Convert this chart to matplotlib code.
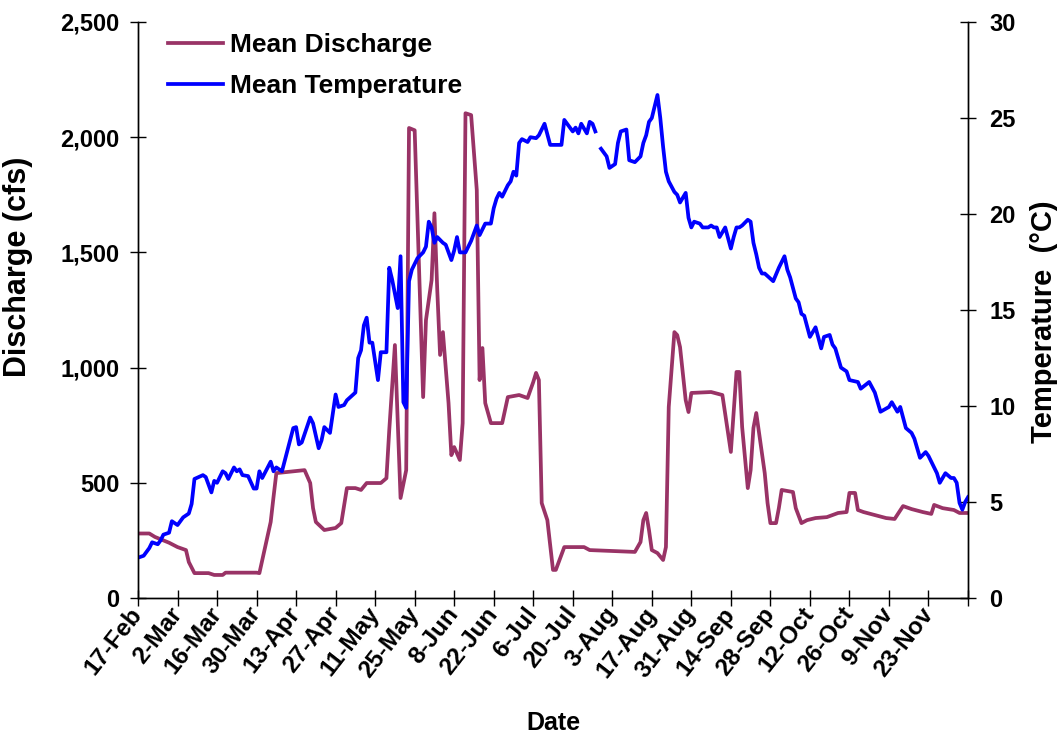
import numpy as np
import matplotlib.pyplot as plt

plt.rcParams['font.family'] = ['Liberation Sans', 'DejaVu Sans']
plt.rcParams['font.weight'] = 'bold'

# days after 17-Feb (leap year), discharge in cfs
q_day = [0, 4, 6, 11, 14, 17, 18, 20, 25, 27, 30, 31, 42, 43, 47, 48, 49, 59, 61, 62,
         63, 66, 70, 72, 74, 77, 79, 81, 86, 88, 89, 91, 93, 95, 96, 98, 101, 102, 104, 105,
         106, 107, 108, 110, 111, 112, 114, 115, 116, 118, 120, 121, 122, 123, 125, 129, 131, 135, 138, 140,
         141, 142, 143, 145, 147, 148, 151, 158, 160, 176, 178, 179, 180, 181, 182, 184, 186, 187, 188, 190,
         191, 192, 194, 195, 196, 203, 207, 210, 212, 213, 214, 216, 217, 218, 219, 222, 223, 224, 226, 227,
         228, 232, 233, 235, 237, 240, 244, 248, 251, 252, 254, 255, 257, 261, 265, 268, 271, 274, 278, 281,
         282, 285, 289, 291, 294]
discharge = [280, 280, 265, 240, 221, 208, 156, 108, 108, 100, 100, 110, 110, 108, 330, 438, 542, 555, 499, 390,
             330, 295, 304, 325, 477, 477, 469, 499, 499, 520, 729, 1098, 434, 555, 2040, 2030, 872, 1206, 1380, 1670,
             1337, 1055, 1154, 846, 620, 655, 599, 759, 2104, 2096, 1771, 946, 1085, 846, 759, 759, 872, 881, 868, 937,
             977, 946, 412, 338, 122, 122, 221, 221, 208, 200, 243, 338, 369, 295, 208, 195, 165, 221, 829, 1154,
             1141, 1089, 859, 807, 890, 894, 881, 634, 981, 981, 742, 477, 555, 738, 803, 542, 412, 325, 325, 390,
             469, 460, 390, 325, 338, 347, 351, 369, 373, 456, 456, 382, 373, 360, 347, 343, 399, 386, 373, 365,
             404, 390, 382, 369, 369]

# days after 17-Feb, temperature in C (one missing day in early August)
t_day = [0, 2, 4, 5, 7, 8, 9, 11, 12, 14, 16, 18, 19, 20, 23, 24, 26, 27, 28, 30,
         31, 32, 34, 35, 36, 37, 39, 41, 42, 43, 44, 47, 48, 49, 51, 55, 56, 57, 58, 61,
         62, 64, 65, 66, 68, 70, 71, 73, 74, 77, 78, 79, 80, 81, 82, 83, 85, 86, 88, 89,
         90, 92, 93, 94, 95, 96, 97, 99, 101, 102, 103, 104, 105, 106, 108, 109, 111, 112, 113, 114,
         116, 118, 120, 121, 123, 125, 126, 127, 128, 129, 131, 132, 133, 134, 135, 136, 138, 139, 141, 142,
         144, 146, 150, 151, 152, 154, 155, 156, 157, 159, 160, 161, 162, 163, 164, 166, 167, 169, 170, 171,
         173, 174, 176, 178, 179, 180, 181, 182, 184, 185, 186, 187, 188, 190, 191, 192, 194, 195, 196, 197,
         199, 200, 202, 203, 204, 205, 206, 208, 210, 211, 212, 213, 214, 216, 217, 218, 219, 220, 221, 222,
         225, 227, 229, 230, 231, 233, 234, 235, 236, 238, 240, 242, 243, 245, 246, 247, 249, 251, 252, 255,
         256, 259, 261, 263, 266, 267, 269, 270, 272, 274, 275, 277, 279, 280, 282, 283, 284, 286, 288, 289,
         290, 291, 292, 293, 294]
temperature = [2.1, 2.2, 2.6, 2.9, 2.8, 3.0, 3.3, 3.4, 4.0, 3.8, 4.2, 4.4, 4.9, 6.2, 6.4, 6.3, 5.5, 6.1, 6.0, 6.6,
               6.5, 6.2, 6.8, 6.6, 6.7, 6.4, 6.35, 5.7, 5.7, 6.6, 6.25, 7.1, 6.6, 6.8, 6.6, 8.85, 8.9, 8.0, 8.1, 9.4,
               9.1, 7.8, 8.2, 8.9, 8.6, 10.6, 9.95, 10.05, 10.3, 10.7, 12.5, 12.9, 14.2, 14.6, 13.3, 13.3, 11.35, 12.8, 12.8, 17.2,
               16.6, 15.1, 17.8, 10.2, 9.9, 16.5, 17.1, 17.7, 18.0, 18.3, 19.6, 19.3, 18.5, 18.8, 18.5, 18.4, 17.6, 18.1, 18.8, 18.0,
               18.0, 18.6, 19.4, 18.9, 19.5, 19.5, 20.3, 20.8, 21.1, 20.9, 21.5, 21.7, 22.2, 22.0, 23.7, 23.9, 23.75, 24.0, 23.95, 24.1,
               24.7, 23.6, 23.6, 24.9, 24.7, 24.3, 24.5, 24.2, 24.7, 24.2, 24.8, 24.7, 24.3, np.nan, 23.4, 23.0, 22.4, 22.6, 23.7, 24.3,
               24.4, 22.8, 22.7, 23.0, 23.7, 24.1, 24.8, 25.0, 26.2, 25.0, 23.5, 22.2, 21.7, 21.15, 21.0, 20.6, 21.1, 19.8, 19.3, 19.6,
               19.5, 19.3, 19.3, 19.4, 19.3, 19.3, 18.8, 19.3, 18.2, 18.8, 19.3, 19.3, 19.4, 19.7, 19.6, 18.5, 17.9, 17.2, 16.9, 16.9,
               16.5, 17.2, 17.8, 17.1, 16.7, 15.6, 15.4, 14.8, 14.7, 13.6, 14.1, 13.0, 13.6, 13.7, 13.2, 13.0, 12.0, 11.8, 11.35, 11.25,
               10.9, 11.25, 10.7, 9.7, 9.95, 10.2, 9.7, 9.95, 8.85, 8.6, 8.3, 7.3, 7.6, 7.4, 6.8, 6.5, 6.0, 6.5, 6.25, 6.25,
               6.0, 4.95, 4.6, 5.0, 5.25]

tick_days = list(range(0, 295, 14))
tick_labels = ['17-Feb', '2-Mar', '16-Mar', '30-Mar', '13-Apr', '27-Apr', '11-May', '25-May',
               '8-Jun', '22-Jun', '6-Jul', '20-Jul', '3-Aug', '17-Aug', '31-Aug', '14-Sep',
               '28-Sep', '12-Oct', '26-Oct', '9-Nov', '23-Nov', '']

fig = plt.figure(figsize=(10.58, 7.33), dpi=100)
ax = fig.add_axes([138 / 1058, 1 - 598 / 733, 830 / 1058, 576 / 733])
ax2 = ax.twinx()

l1, = ax.plot(q_day, discharge, color='#993366', lw=2.7, label='Mean Discharge')
l2, = ax2.plot(t_day, temperature, color='#0000FF', lw=2.7, label='Mean Temperature')

ax.set_xlim(0, 294)
ax.set_ylim(0, 2500)
ax2.set_ylim(0, 30)
ax.set_yticks(range(0, 2501, 500))
ax.set_yticklabels([f'{v:,}' for v in range(0, 2501, 500)])
ax2.set_yticks(range(0, 31, 5))
ax.set_xticks(tick_days)
ax.set_xticklabels(tick_labels, rotation=52, ha='right', va='center', rotation_mode='anchor')

for a in (ax, ax2):
    a.spines['top'].set_visible(False)
    for s in a.spines.values():
        s.set_linewidth(1.0)
ax.tick_params(axis='y', direction='inout', length=11, width=1, labelsize=17, pad=8)
ax.tick_params(axis='x', direction='inout', length=11, width=1, labelsize=17.5, pad=3)
ax2.tick_params(axis='y', direction='inout', length=11, width=1, labelsize=17, pad=10)

ax.set_xlabel('Date', fontsize=18, fontweight='bold')
ax.xaxis.set_label_coords(0.5, -0.196)
ax.set_ylabel('Discharge (cfs)', fontsize=22, fontweight='bold')
ax.yaxis.set_label_coords(-0.127, 0.575)
ax2.set_ylabel('Temperature  (°C)', fontsize=21, fontweight='bold')
ax2.yaxis.set_label_coords(1.0747, 0.479)

fig.legend(handles=[l1, l2], loc='upper left', bbox_to_anchor=(168 / 1058, 1 - 33 / 733),
           frameon=False, fontsize=19, handlelength=2.1, handletextpad=0.25,
           labelspacing=0.65, borderpad=0, borderaxespad=0)

fig.savefig('out.png', dpi=100)
